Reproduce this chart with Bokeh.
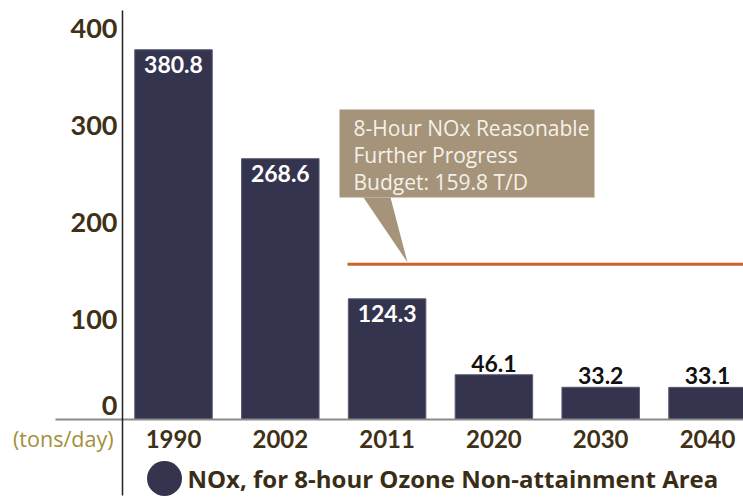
from bokeh.plotting import figure
from bokeh.models import Range1d, ColumnDataSource
from bokeh.core.properties import value
from bokeh.embed import file_html
from bokeh.resources import INLINE

# ---- data ----
years = ["1990", "2002", "2011", "2020", "2030", "2040"]
nox = [380.8, 268.6, 124.3, 46.1, 33.2, 33.1]
value_labels = ["380.8", "268.6", "124.3", "46.1", "33.2", "33.1"]
y_ticks = [100, 200, 300, 400]
y_tick_labels = ["100", "200", "300", "400"]
zero_tick = [0]
zero_label = ["0"]
budget = 159.8
budget_text = ["8-Hour NOx Reasonable", "Further Progress", "Budget: 159.8 T/D"]
unit_label = "(tons/day)"
legend_label = "NOx, for 8-hour Ozone Non-attainment Area"

# ---- layout (pixel geometry of the frame) ----
W, H = 743, 498
PAGE = 0
X0_PX = 173.0      # page px of first bar centre
XS = 106.8         # px per category step
Y0_PX = 419.0      # page px of zero baseline
YS = 0.971         # px per ton/day


def X(px):
    return (px - X0_PX) / XS


def Y(py):
    return (Y0_PX - py) / YS


x_start, x_end = X(PAGE), X(PAGE + W)
y_start, y_end = Y(PAGE + H), Y(PAGE)

p = figure(width=W, height=H, output_backend="svg", toolbar_location=None,
           x_range=Range1d(x_start, x_end), y_range=Range1d(y_start, y_end),
           min_border=0, outline_line_color=None)
p.axis.visible = False
p.grid.visible = False
p.background_fill_color = "white"
p.border_fill_color = "white"

BAR = "#35344f"
BROWN = "#3f3118"
OLIVE = "#a38f3c"
ORANGE = "#c8642c"
TAN = "#a59479"
NUM_FONT = value("Lato")
TXT_FONT = value("Open Sans")

xs = list(range(len(years)))
src = ColumnDataSource(dict(x=xs, top=nox, lab=value_labels, yr=years))

# bars
p.vbar(x="x", top="top", bottom=0, width=77.5 / XS, source=src,
       fill_color=BAR, line_color="#5a5a72", line_width=1)

# baseline and vertical axis line
p.segment(x0=[X(55)], y0=[0], x1=[x_end], y1=[0], line_color="#8a8a8a", line_width=2)
p.segment(x0=[X(122)], y0=[Y(10)], x1=[X(122)], y1=[Y(495)], line_color="#222222", line_width=1.5)

# value labels: inside (white) for tall bars, above (black) for short
inside = [i for i, v in enumerate(nox) if v > 100]
outside = [i for i, v in enumerate(nox) if v <= 100]
p.text(x=[xs[i] for i in inside], y=[nox[i] for i in inside],
       text=[value_labels[i] for i in inside], text_align="center", text_baseline="top",
       y_offset=6, text_color="white", text_font=NUM_FONT, text_font_style="bold",
       text_font_size="23px")
p.text(x=[xs[i] for i in outside], y=[nox[i] for i in outside],
       text=[value_labels[i] for i in outside], text_align="center", text_baseline="bottom",
       y_offset=-3, text_color="#111111", text_font=NUM_FONT, text_font_style="bold",
       text_font_size="23px")

# x category labels
p.text(x=xs, y=[0] * len(xs), text=years, text_align="center", text_baseline="middle",
       y_offset=19, text_color=BROWN, text_font=NUM_FONT, text_font_style="bold",
       text_font_size="24px")

# y tick labels
p.text(x=[X(117)] * len(y_ticks), y=y_ticks, text=y_tick_labels, text_align="right",
       text_baseline="middle", y_offset=-3, text_color=BROWN, text_font=NUM_FONT,
       text_font_style="bold", text_font_size="27px")
p.text(x=[X(117)], y=zero_tick, text=zero_label, text_align="right",
       text_baseline="middle", y_offset=-14, text_color=BROWN, text_font=NUM_FONT,
       text_font_style="bold", text_font_size="27px")

# unit label
p.text(x=[X(113)], y=[0], text=[unit_label], text_align="right", text_baseline="middle",
       y_offset=19, text_color=OLIVE, text_font=TXT_FONT, text_font_size="21.5px")

# budget line
p.segment(x0=[X(347)], y0=[budget], x1=[x_end], y1=[budget], line_color=ORANGE, line_width=3)

# callout box with pointer
p.quad(left=[X(339)], right=[X(594)], top=[Y(109)], bottom=[Y(197)],
       fill_color=TAN, line_color=None)
p.patch(x=[X(363), X(390), X(407)], y=[Y(197), Y(197), budget + 2 / YS],
        fill_color=TAN, line_color=None)
p.text(x=[X(353)] * 3, y=[Y(127), Y(154), Y(181)], text=budget_text, text_align="left",
       text_baseline="middle", text_color="#f5f1ea", text_font=TXT_FONT,
       text_font_size="21px")

# legend
p.scatter(x=[X(164)], y=[Y(478)], marker="circle", size=35, fill_color=BAR, line_color=None)
p.text(x=[X(187)], y=[Y(478)], text=[legend_label], text_align="left", text_baseline="middle",
       text_color="#3a2d18", text_font=TXT_FONT, text_font_style="bold",
       text_font_size="24px")

open("out.html", "w").write(file_html(p, INLINE))
